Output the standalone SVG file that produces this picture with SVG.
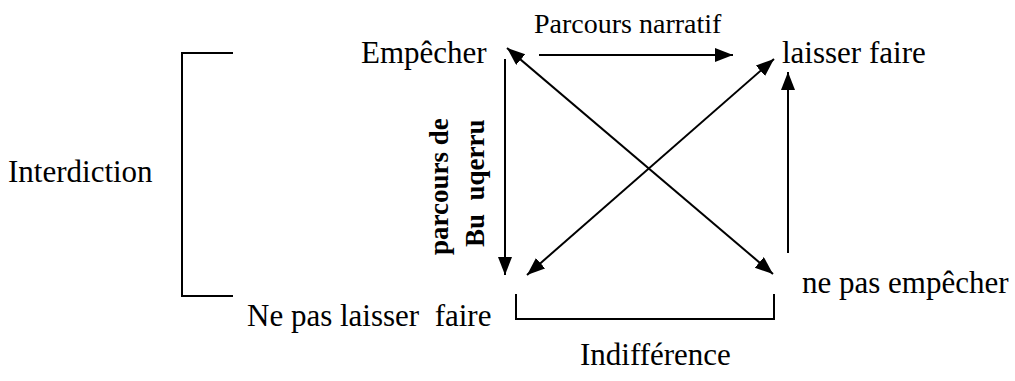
<svg xmlns="http://www.w3.org/2000/svg" width="1015" height="381" viewBox="0 0 1015 381">
<style>
text{font-family:"Liberation Serif","Times New Roman",serif;fill:#000;white-space:pre}
.t{font-size:31px}
.n{font-size:28px}
.v{font-size:27px;font-weight:bold}
.l{stroke:#000;stroke-width:2;fill:none}
</style>
<defs>
<marker id="ah" markerUnits="userSpaceOnUse" markerWidth="20" markerHeight="16" refX="18" refY="7" orient="auto-start-reverse">
<path d="M0,0 L18,7 L0,14 z" fill="#000"/>
</marker>
</defs>
<rect width="1015" height="381" fill="#fff"/>
<g id="connectors">
<line class="l" x1="539" y1="55" x2="733" y2="55" marker-end="url(#ah)"/>
<line class="l" x1="505" y1="59" x2="505" y2="275" marker-end="url(#ah)"/>
<line class="l" x1="507" y1="48" x2="773" y2="274" marker-start="url(#ah)" marker-end="url(#ah)"/>
<line class="l" x1="527" y1="275" x2="774" y2="59" marker-start="url(#ah)" marker-end="url(#ah)"/>
<line class="l" x1="788" y1="253" x2="788" y2="72" marker-end="url(#ah)"/>
<polyline class="l" points="233,53 182,53 182,296 233,296"/>
<polyline class="l" points="516,294 516,319 774,319 774,294"/>
</g>
<g id="empecher"><text class="t" x="361" y="63">Empêcher</text></g>
<g id="parcours-narratif"><text class="n" x="534" y="33">Parcours narratif</text></g>
<g id="laisser-faire"><text class="t" x="782" y="63">laisser faire</text></g>
<g id="interdiction"><text class="t" x="8" y="182">Interdiction</text></g>
<g id="ne-pas-laisser-faire"><text class="t" x="247" y="326">Ne pas laisser  faire</text></g>
<g id="ne-pas-empecher"><text class="t" x="802" y="293">ne pas empêcher</text></g>
<g id="indifference"><text class="t" x="580" y="365">Indifférence</text></g>
<g id="parcours-bu">
<text class="v" transform="translate(448,255) rotate(-90)">parcours de</text>
<text class="v" transform="translate(484,247) rotate(-90)">Bu  uqerru</text>
</g>
</svg>
